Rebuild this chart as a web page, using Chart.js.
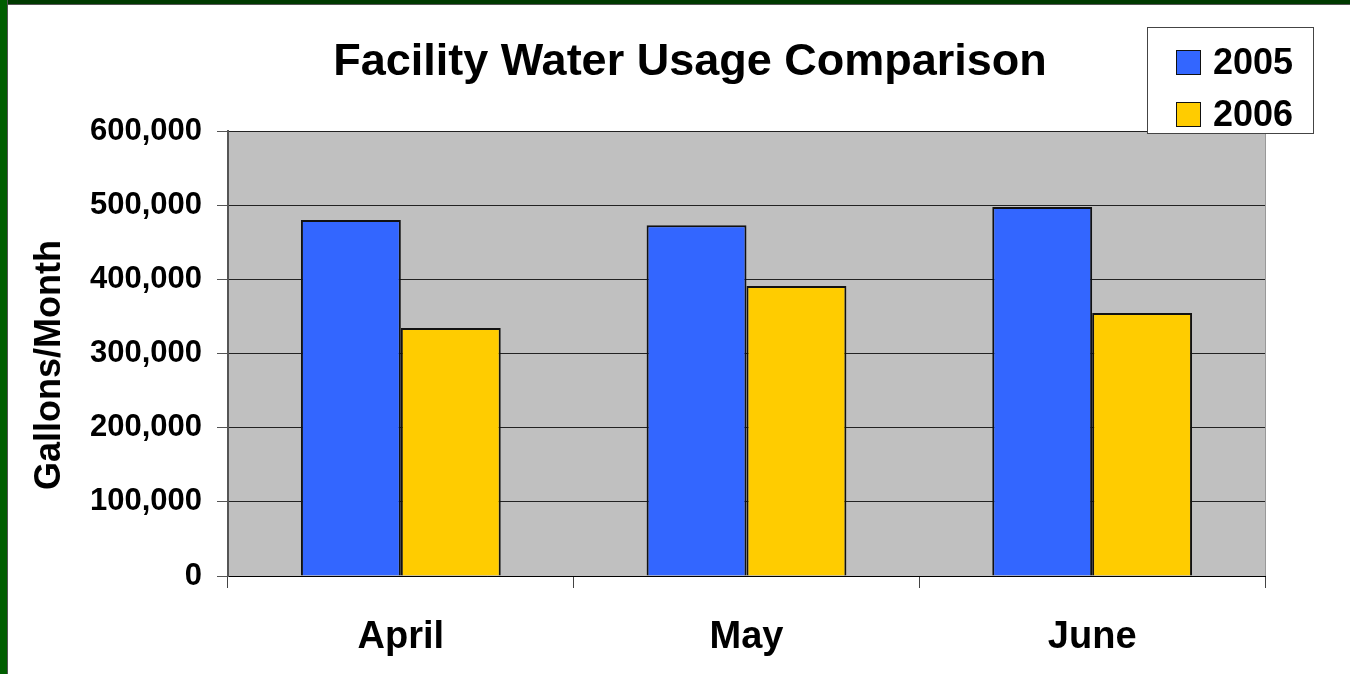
<!DOCTYPE html>
<html>
<head>
<meta charset="utf-8">
<script src="https://cdn.jsdelivr.net/npm/chart.js@4"></script>
<style>
    body { margin: 0; background: #fff; }
    .wrap { position: relative; width: 1350px; height: 674px; overflow: hidden; font-family: 'Liberation Sans', Arial, sans-serif; }
    #chart { position: absolute; left: 0; top: 0; }
    .frame-left { position: absolute; left: 0; top: 0; width: 7px; height: 674px; background: #005e00; border-right: 1px solid #555; }
    .frame-top { position: absolute; left: 0; top: 0; width: 1350px; height: 4px; background: #003a00; border-bottom: 1px solid #555; }
    .title { position: absolute; left: 290px; width: 800px; top: 34px; text-align: center; font-size: 45px; font-weight: bold; color: #000; }
    .ytitle { position: absolute; left: 48px; top: 365px; transform: translate(-50%, -50%) rotate(-90deg); white-space: nowrap; font-size: 36px; font-weight: bold; color: #000; }
    .legend { position: absolute; left: 1147px; top: 27px; width: 165px; height: 105px; border: 1px solid #444; background: #fff; }
    .legend-row { position: absolute; left: 28px; height: 40px; display: flex; align-items: center; font-size: 36px; font-weight: bold; }
    .legend-row span.box { display: inline-block; width: 23px; height: 23px; border: 1px solid #111; margin-right: 12px; }
</style>
</head>
<body>
<div class="wrap">
    <canvas id="chart" width="1350" height="674"></canvas>
    <div class="frame-top"></div>
    <div class="frame-left"></div>
    <div class="title">Facility Water Usage Comparison</div>
    <div class="ytitle">Gallons/Month</div>
    <div class="legend" id="legend"></div>
</div>
<script>
    const months = ['April', 'May', 'June'];
    const seriesNames = ['2005', '2006'];
    const usage2005 = [480000, 473000, 497500];
    const usage2006 = [334500, 391000, 354500];
    const seriesColors = ['#3366FF', '#FFCC00'];

    const fontFamily = "'Liberation Sans', Arial, sans-serif";

    // Legend built as plain html
    const legendEl = document.getElementById('legend');
    seriesNames.forEach((name, i) => {
        const row = document.createElement('div');
        row.className = 'legend-row';
        row.style.top = (i === 0 ? 14 : 66) + 'px';
        row.innerHTML = `<span class="box" style="background:${seriesColors[i]}"></span>${name}`;
        legendEl.appendChild(row);
    });

    // Gray plot area plus the light right edge
    const plotBackground = {
        id: 'plotBackground',
        beforeDraw(chart) {
            const { ctx, chartArea: a } = chart;
            ctx.save();
            ctx.fillStyle = '#C0C0C0';
            ctx.fillRect(a.left, a.top, a.right - a.left, a.bottom - a.top);
            ctx.strokeStyle = '#999';
            ctx.lineWidth = 1;
            ctx.beginPath();
            ctx.moveTo(a.right + 0.5, a.top);
            ctx.lineTo(a.right + 0.5, a.bottom);
            ctx.stroke();
            ctx.restore();
        }
    };

    const ctx = document.getElementById('chart').getContext('2d');
    new Chart(ctx, {
        type: 'bar',
        data: {
            labels: months,
            datasets: [
                {
                    label: seriesNames[0],
                    data: usage2005,
                    backgroundColor: seriesColors[0],
                    borderColor: '#111',
                    borderWidth: 2
                },
                {
                    label: seriesNames[1],
                    data: usage2006,
                    backgroundColor: seriesColors[1],
                    borderColor: '#111',
                    borderWidth: 2
                }
            ]
        },
        options: {
            responsive: false,
            animation: false,
            layout: { padding: { top: 131, right: 85, left: 0, bottom: 0 } },
            categoryPercentage: 0.578,
            barPercentage: 1.0,
            plugins: {
                legend: { display: false },
                title: { display: false },
                tooltip: { enabled: false }
            },
            scales: {
                x: {
                    afterFit(scale) { scale.height = 98; },
                    grid: {
                        offset: true,
                        drawOnChartArea: false,
                        drawTicks: true,
                        tickLength: 12,
                        color: '#444'
                    },
                    border: { display: true, color: '#000', width: 1 },
                    ticks: {
                        color: '#000',
                        padding: 27,
                        font: { family: fontFamily, size: 38, weight: 'bold' }
                    }
                },
                y: {
                    min: 0,
                    max: 600000,
                    afterFit(scale) { scale.width = 228; },
                    grid: {
                        color: '#222',
                        tickColor: '#555',
                        tickLength: 11,
                        lineWidth: 1
                    },
                    border: { display: true, color: '#555', width: 2 },
                    ticks: {
                        stepSize: 100000,
                        color: '#000',
                        padding: 15,
                        font: { family: fontFamily, size: 31, weight: 'bold' },
                        callback: v => v.toLocaleString('en-US')
                    }
                }
            }
        },
        plugins: [plotBackground]
    });
</script>
</body>
</html>
